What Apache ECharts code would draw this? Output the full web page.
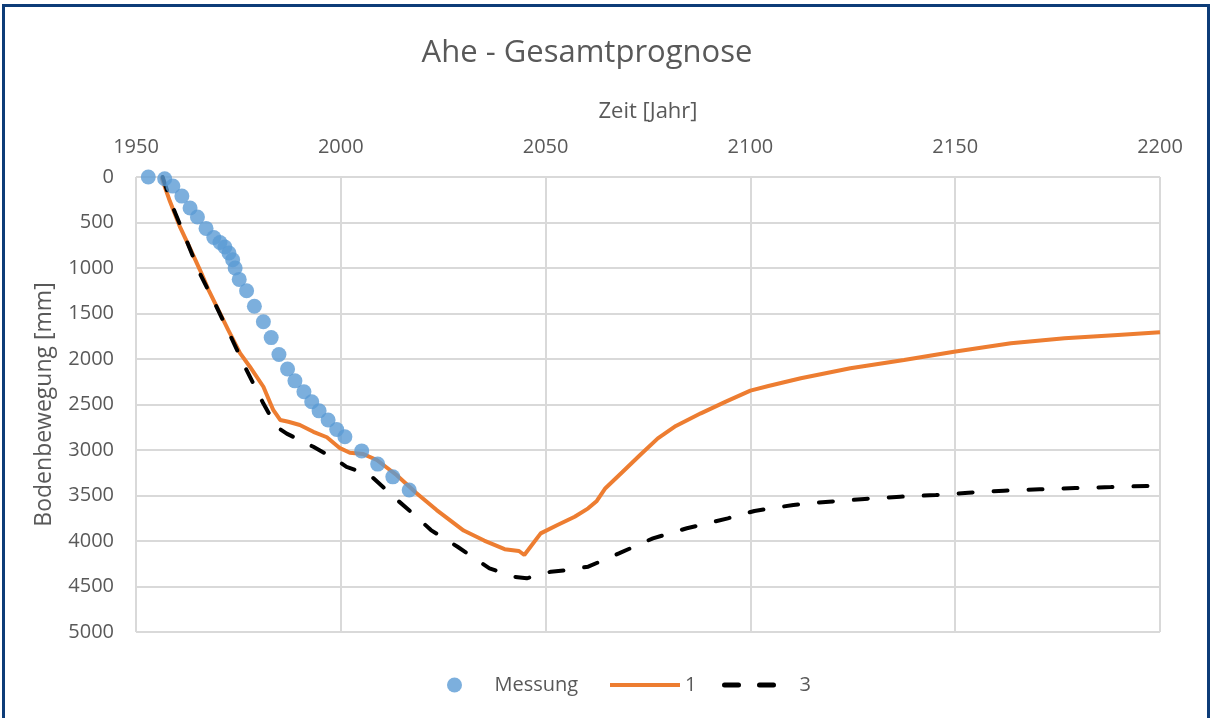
<!DOCTYPE html>
<html>
<head>
<meta charset="utf-8">
<script src="https://cdn.jsdelivr.net/npm/echarts@6/dist/echarts.min.js"></script>
<style>
html,body{margin:0;padding:0;background:#fff;}
#frame{position:absolute;left:2px;top:4px;width:1202px;height:730px;border-top:3px solid #0d3c78;border-left:3px solid #0d3c78;border-right:3px solid #0d3c78;}
#chart{position:absolute;left:0;top:0;width:1210px;height:718px;}
</style>
</head>
<body>
<div id="frame"></div>
<div id="chart"></div>
<script>
// Messung (measurements)
var measYears = [1953, 1957, 1959, 1961.2, 1963.2, 1965, 1967.1, 1969, 1970.5, 1971.7, 1972.7, 1973.6, 1974.2, 1975.2, 1977, 1978.9, 1981.1, 1983, 1984.9, 1987, 1988.8, 1991, 1992.9, 1994.7, 1996.9, 1999, 2001, 2005.1, 2009, 2012.7, 2016.7];
var measValues = [0, 20, 100, 210, 340, 440, 565, 665, 720, 770, 835, 910, 1000, 1125, 1250, 1420, 1590, 1765, 1950, 2110, 2240, 2360, 2470, 2570, 2670, 2775, 2855, 3010, 3155, 3295, 3440];

// Prognose 1
var years1 = [1956.2, 1958.3, 1960.7, 1963.2, 1965.6, 1967.7, 1970.1, 1972.5, 1975.4, 1977.8, 1981.1, 1983.5, 1985.2, 1987.2, 1990, 1993.3, 1996.6, 1999.8, 2002.2, 2005.5, 2008.8, 2013.6, 2018.5, 2023.4, 2030, 2035, 2040, 2043.5, 2044.8, 2048.8, 2052.9, 2057.1, 2060.4, 2062.5, 2064.6, 2068.7, 2073.2, 2077.4, 2081.8, 2087.9, 2094, 2100, 2104.4, 2112.3, 2124.4, 2137.5, 2149.7, 2163.6, 2176.7, 2189.7, 2200];
var values1 = [0, 270, 545, 785, 1020, 1240, 1460, 1680, 1935, 2085, 2305, 2560, 2670, 2690, 2725, 2800, 2860, 2980, 3030, 3045, 3110, 3275, 3475, 3660, 3885, 3995, 4090, 4110, 4154, 3916, 3824, 3733, 3641, 3560, 3420, 3245, 3050, 2872, 2736, 2597, 2469, 2348, 2297, 2212, 2102, 2011, 1920, 1828, 1773, 1736, 1707];

// Prognose 3
var years3 = [1956.5, 1958.7, 1962, 1965.6, 1969.7, 1972.9, 1976.2, 1981.1, 1984.3, 1986.8, 1993.3, 1999, 2001.4, 2007.1, 2013.8, 2018.5, 2022, 2028.5, 2036.3, 2042.1, 2045.4, 2051.3, 2055.4, 2060.4, 2067.9, 2076.2, 2084.5, 2094.5, 2101, 2110.5, 2119.2, 2127.9, 2136.6, 2145.3, 2153.2, 2161.9, 2170.6, 2179.3, 2188, 2200];
var values3 = [0, 300, 660, 1060, 1430, 1730, 2050, 2490, 2745, 2820, 2965, 3110, 3185, 3275, 3550, 3735, 3880, 4063, 4300, 4392, 4410, 4337, 4320, 4282, 4136, 3971, 3860, 3751, 3670, 3604, 3568, 3538, 3513, 3495, 3469, 3447, 3432, 3418, 3407, 3390];

var seriesNames = ['Messung', '1', '3'];
var xTicks = {min: 1950, max: 2200, step: 50};
var yTicks = {min: 0, max: 5000, step: 500};

function pairs(xs, ys) { return xs.map(function (x, i) { return [x, ys[i]]; }); }

var FONT = '"Open Sans", Lato, sans-serif';
var TXT = '#595959';
var legendText = {fontFamily: FONT, fontSize: 20, color: TXT};
var hiddenSymbol = {color: 'rgba(0,0,0,0)', borderColor: 'rgba(0,0,0,0)', borderWidth: 0, opacity: 0};
var chart = echarts.init(document.getElementById('chart'), null, {renderer: 'canvas'});
chart.setOption({
  animation: false,
  backgroundColor: 'transparent',
  title: {
    text: 'Ahe - Gesamtprognose',
    left: 582, top: 33, textAlign: 'center',
    textStyle: {fontFamily: FONT, fontSize: 31, fontWeight: 'normal', color: TXT}
  },
  legend: [
    {data: [seriesNames[0]], left: 442, top: 670, itemWidth: 70, itemHeight: 15, textStyle: legendText},
    {data: [seriesNames[1]], left: 603, top: 670, itemWidth: 70, itemHeight: 15, textStyle: legendText, itemStyle: hiddenSymbol,
     lineStyle: {width: 4}},
    {data: [seriesNames[2]], left: 717, top: 670, itemWidth: 70, itemHeight: 15, textStyle: legendText, itemStyle: hiddenSymbol,
     lineStyle: {width: 5}}
  ],
  grid: {left: 136, right: 50, top: 177, bottom: 86, containLabel: false},
  xAxis: {
    type: 'value', position: 'top',
    min: xTicks.min, max: xTicks.max, interval: xTicks.step,
    name: 'Zeit [Jahr]', nameLocation: 'middle', nameGap: 54,
    nameTextStyle: {fontFamily: FONT, fontSize: 22, color: TXT},
    axisLine: {show: false}, axisTick: {show: false},
    axisLabel: {fontFamily: FONT, fontSize: 20, color: TXT, margin: 20, formatter: function (v) { return String(v); }},
    splitLine: {show: true, lineStyle: {color: '#d9d9d9', width: 2}}
  },
  yAxis: {
    type: 'value', inverse: true,
    min: yTicks.min, max: yTicks.max, interval: yTicks.step,
    name: 'Bodenbewegung [mm]', nameLocation: 'middle', nameGap: 80,
    nameTextStyle: {fontFamily: FONT, fontSize: 23, color: TXT},
    axisLine: {show: false}, axisTick: {show: false},
    axisLabel: {fontFamily: FONT, fontSize: 20, color: TXT, margin: 22, formatter: function (v) { return String(v); }},
    splitLine: {show: true, lineStyle: {color: '#d9d9d9', width: 2}}
  },
  series: [
    {
      name: seriesNames[0], type: 'scatter', z: 5,
      symbol: 'circle', symbolSize: 15,
      itemStyle: {color: '#5b9bd5'},
      data: pairs(measYears, measValues)
    },
    {
      name: seriesNames[1], type: 'line', z: 3, showSymbol: false, symbol: 'none',
      lineStyle: {color: '#ed7d31', width: 4},
      itemStyle: {color: '#ed7d31'},
      data: pairs(years1, values1)
    },
    {
      name: seriesNames[2], type: 'line', z: 4, showSymbol: false, symbol: 'none',
      lineStyle: {color: '#000000', width: 4, type: [14, 21], cap: 'round'},
      itemStyle: {color: '#000000'},
      data: pairs(years3, values3)
    }
  ]
});
</script>
</body>
</html>
